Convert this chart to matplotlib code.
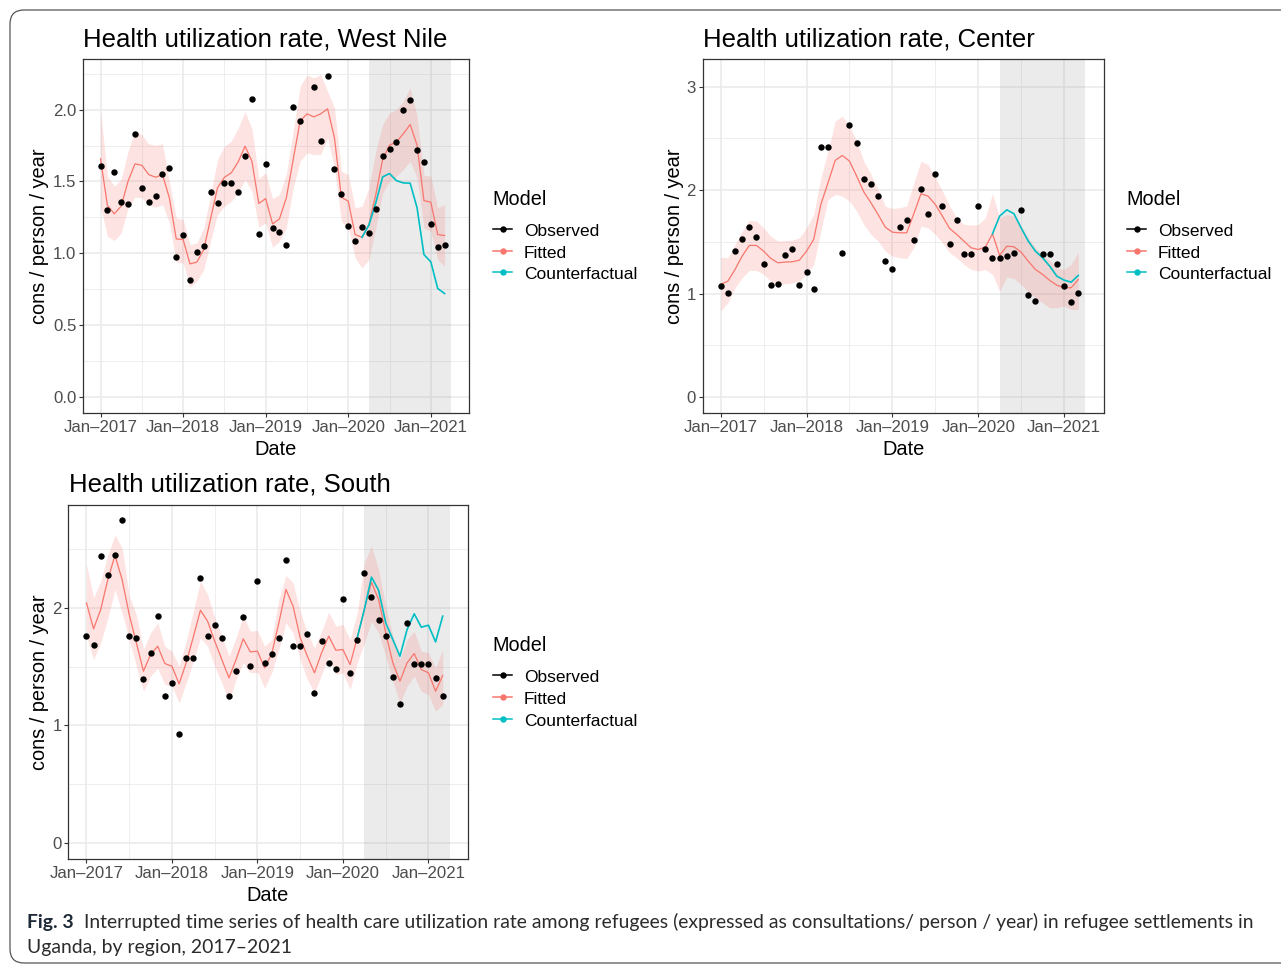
import numpy as np
import matplotlib
matplotlib.use("Agg")
import matplotlib.pyplot as plt
from matplotlib.patches import FancyBboxPatch
from matplotlib.lines import Line2D
from matplotlib.transforms import IdentityTransform

plt.rcParams['font.family'] = ['Liberation Sans', 'DejaVu Sans']

NaN = np.nan

# ---------------- data ----------------
months = np.arange(51)                       # months since Jan 2017
tick_months = [0, 12, 24, 36, 48]
tick_labels = ["Jan\u20132017", "Jan\u20132018", "Jan\u20132019", "Jan\u20132020", "Jan\u20132021"]
minor_months = [6, 18, 30, 42]
interruption = (39, 51)                      # Apr 2020 - Apr 2021
cf_start = 38
legend_labels = ["Observed", "Fitted", "Counterfactual"]

# West Nile
obs_wn = [1.611, 1.305, 1.564, 1.356, 1.340, 1.833, 1.458, 1.360, 1.400, 1.550, 1.597, 0.973, 1.126, 0.816,
          1.013, 1.048, 1.425, 1.351, 1.488, 1.486, 1.430, 1.676, 2.074, 1.136, 1.620, 1.178, 1.152, 1.055,
          2.021, 1.921, NaN, 2.160, 1.782, 2.234, 1.585, 1.414, 1.187, 1.089, 1.180, 1.145, 1.307, 1.678,
          1.727, 1.771, 2.000, 2.069, 1.717, 1.634, 1.205, 1.041, 1.057]
fit_wn = [1.657, 1.333, 1.275, 1.328, 1.502, 1.622, 1.613, 1.548, 1.529, 1.548, 1.386, 1.101, 1.096, 0.927,
          0.939, 1.027, 1.242, 1.456, 1.529, 1.560, 1.636, 1.745, 1.641, 1.347, 1.381, 1.205, 1.240, 1.386,
          1.652, 1.919, 1.970, 1.949, 1.970, 2.005, 1.803, 1.390, 1.363, 1.131, 1.112, 1.200, 1.409, 1.652,
          1.752, 1.775, 1.831, 1.896, 1.752, 1.367, 1.356, 1.131, 1.124]
hi_wn = [1.988, 1.537, 1.467, 1.514, 1.710, 1.849, 1.826, 1.761, 1.752, 1.761, 1.502, 1.247, 1.235, 1.061,
         1.073, 1.177, 1.409, 1.652, 1.745, 1.780, 1.872, 1.984, 1.868, 1.520, 1.560, 1.381, 1.409, 1.548,
         1.849, 2.162, 2.239, 2.220, 2.243, 2.127, 2.012, 1.571, 1.548, 1.316, 1.328, 1.455, 1.710, 1.896,
         1.977, 2.000, 2.058, 2.151, 1.954, 1.543, 1.537, 1.316, 1.340]
lo_wn = [1.326, 1.119, 1.089, 1.142, 1.316, 1.391, 1.386, 1.335, 1.321, 1.340, 1.212, 0.941, 0.934, 0.765,
         0.807, 0.888, 1.085, 1.270, 1.328, 1.363, 1.421, 1.514, 1.433, 1.182, 1.212, 1.043, 1.085, 1.177,
         1.455, 1.641, 1.699, 1.687, 1.687, 1.803, 1.595, 1.224, 1.177, 0.969, 0.899, 0.957, 1.177, 1.421,
         1.502, 1.537, 1.583, 1.641, 1.525, 1.177, 1.154, 0.957, 0.911]
cf_wn = [1.112, 1.196, 1.351, 1.532, 1.555, 1.506, 1.490, 1.488, 1.317, 0.992, 0.941, 0.756, 0.721]

# Center
obs_c = [1.073, 1.002, 1.408, 1.527, 1.640, 1.543, 1.282, 1.086, 1.089, 1.376, 1.427, 1.082, 1.208, 1.041,
         2.413, 2.413, NaN, 1.395, 2.632, 2.458, 2.103, 2.062, 1.946, 1.311, 1.240, 1.646, 1.707, 1.514,
         2.013, 1.765, 2.152, 1.846, 1.475, 1.710, 1.379, 1.379, 1.849, 1.430, 1.343, 1.343, 1.366, 1.388,
         1.810, 0.986, 0.928, 1.379, 1.379, 1.282, 1.076, 0.921, 1.002]
fit_c = [1.089, 1.121, 1.234, 1.363, 1.466, 1.466, 1.411, 1.340, 1.298, 1.305, 1.308, 1.324, 1.411, 1.524,
         1.862, 2.071, 2.287, 2.335, 2.281, 2.136, 1.984, 1.878, 1.765, 1.643, 1.594, 1.588, 1.588, 1.772,
         1.965, 1.942, 1.862, 1.749, 1.630, 1.572, 1.508, 1.443, 1.427, 1.450, 1.578, 1.369, 1.459, 1.453,
         1.401, 1.314, 1.234, 1.186, 1.128, 1.082, 1.057, 1.057, 1.137]
hi_c = [1.353, 1.347, 1.475, 1.604, 1.707, 1.701, 1.636, 1.556, 1.508, 1.514, 1.517, 1.540, 1.636, 1.765,
        2.120, 2.377, 2.667, 2.715, 2.619, 2.474, 2.280, 2.152, 2.007, 1.846, 1.823, 1.830, 1.846, 2.071,
        2.280, 2.248, 2.120, 1.991, 1.846, 1.733, 1.669, 1.662, 1.669, 1.733, 1.965, 1.733, 1.765, 1.749,
        1.652, 1.540, 1.443, 1.379, 1.321, 1.250, 1.234, 1.282, 1.401]
lo_c = [0.831, 0.912, 1.057, 1.153, 1.224, 1.224, 1.186, 1.121, 1.089, 1.095, 1.102, 1.121, 1.186, 1.282,
        1.604, 1.910, 1.958, 1.942, 1.894, 1.797, 1.669, 1.572, 1.508, 1.411, 1.363, 1.347, 1.340, 1.443,
        1.652, 1.636, 1.572, 1.492, 1.395, 1.347, 1.282, 1.234, 1.218, 1.234, 1.186, 1.024, 1.160, 1.147,
        1.089, 1.018, 0.960, 0.912, 0.863, 0.863, 0.880, 0.847, 0.847]
cf_c = [1.578, 1.749, 1.810, 1.772, 1.636, 1.508, 1.411, 1.347, 1.266, 1.169, 1.131, 1.111, 1.176]

# South
obs_s = [1.764, 1.682, 2.439, 2.275, 2.448, 2.746, 1.764, 1.742, 1.395, 1.614, 1.932, 1.251, 1.361, 0.930,
         1.569, 1.577, 2.255, 1.764, 1.858, 1.739, 1.248, 1.461, 1.926, 1.506, 2.227, 1.532, 1.608, 1.739,
         2.403, 1.679, 1.671, 1.776, 1.279, 1.719, 1.532, 1.478, 2.076, 1.444, 1.722, 2.292, 2.093, 1.900,
         1.759, 1.413, 1.183, 1.869, 1.523, 1.523, 1.523, 1.404, 1.254]
fit_s = [2.042, 1.821, 1.986, 2.241, 2.445, 2.241, 1.943, 1.702, 1.461, 1.603, 1.673, 1.526, 1.503, 1.353,
         1.532, 1.753, 1.980, 1.886, 1.716, 1.560, 1.404, 1.560, 1.736, 1.625, 1.631, 1.489, 1.608, 1.872,
         2.156, 2.014, 1.744, 1.588, 1.447, 1.617, 1.759, 1.639, 1.645, 1.517, 1.744, 1.986, 2.218, 2.071,
         1.787, 1.532, 1.376, 1.532, 1.611, 1.475, 1.447, 1.290, 1.424]
hi_s = [2.369, 2.085, 2.227, 2.450, 2.620, 2.510, 2.099, 1.943, 1.645, 1.787, 1.872, 1.673, 1.631, 1.503,
        1.716, 1.971, 2.227, 2.113, 1.915, 1.759, 1.588, 1.744, 1.934, 1.801, 1.807, 1.673, 1.730, 2.071,
        2.275, 2.212, 1.971, 1.787, 1.659, 1.801, 1.963, 1.844, 1.858, 1.730, 1.957, 2.383, 2.525, 2.326,
        2.014, 1.759, 1.560, 1.730, 1.801, 1.631, 1.617, 1.489, 1.645]
lo_s = [1.759, 1.560, 1.702, 1.915, 2.156, 1.957, 1.730, 1.503, 1.290, 1.418, 1.489, 1.347, 1.333, 1.191,
        1.361, 1.546, 1.744, 1.673, 1.503, 1.361, 1.205, 1.390, 1.532, 1.447, 1.452, 1.319, 1.447, 1.645,
        1.872, 1.787, 1.560, 1.390, 1.276, 1.432, 1.588, 1.432, 1.447, 1.305, 1.532, 1.702, 1.886, 1.787,
        1.588, 1.376, 1.191, 1.333, 1.418, 1.290, 1.262, 1.120, 1.177]
cf_s = [1.744, 1.986, 2.261, 2.150, 1.872, 1.730, 1.588, 1.815, 1.949, 1.835, 1.852, 1.710, 1.929]

# ---------------- style ----------------
C_OBS, C_FIT, C_CF = "black", "#F8766D", "#00BFC4"
W, H = 1281, 966

fig = plt.figure(figsize=(W / 100, H / 100), dpi=100)
fig.patch.set_facecolor("white")


def fx(x):
    return x / W


def fy(y):
    return 1 - y / H


def add_axes(x0, y0, x1, y1):
    return fig.add_axes([x0 / W, 1 - y1 / H, (x1 - x0) / W, (y1 - y0) / H])


def draw_panel(ax, obs, fit, lo, hi, cf, ylim, yticks, ylabels, yminor):
    ax.set_xlim(-2.55, 53.55)
    ax.set_ylim(*ylim)
    ax.set_axisbelow(True)
    ax.set_xticks(tick_months)
    ax.set_xticklabels(tick_labels)
    ax.set_xticks(minor_months, minor=True)
    ax.set_yticks(yticks)
    ax.set_yticklabels(ylabels)
    ax.set_yticks(yminor, minor=True)
    ax.grid(which="major", color="#EBEBEB", lw=1.2)
    ax.grid(which="minor", color="#EBEBEB", lw=0.6)
    ax.tick_params(which="minor", length=0)
    ax.tick_params(which="major", length=3.0, width=0.8, color="#333333",
                   labelsize=12.1, labelcolor="#4D4D4D", pad=1.8)
    for s in ax.spines.values():
        s.set_color("#333333")
        s.set_linewidth(0.9)
    ax.axvspan(interruption[0], interruption[1], color="#7F7F7F", alpha=0.15, lw=0, zorder=1)
    ax.fill_between(months, lo, hi, color=C_FIT, alpha=0.2, lw=0, zorder=1.5)
    ax.plot(months, fit, color=C_FIT, lw=0.9, zorder=2)
    ax.plot(months[cf_start:], cf, color=C_CF, lw=1.2, zorder=2.1)
    ax.plot(months, obs, "o", color=C_OBS, ms=4.6, mec="none", zorder=3)


def draw_legend(x, y_title_base, row_ys):
    fig.text(fx(x), fy(y_title_base), "Model", fontsize=14.3, ha="left", va="baseline")
    for lab, col, y in zip(legend_labels, [C_OBS, C_FIT, C_CF], row_ys):
        fig.add_artist(Line2D([fx(x + 1), fx(x + 20)], [fy(y), fy(y)], color=col, lw=1.1,
                              transform=fig.transFigure))
        fig.add_artist(Line2D([fx(x + 10.5)], [fy(y)], marker="o", ms=4.6, color=col, mec="none",
                              lw=0, transform=fig.transFigure))
        fig.text(fx(x + 32), fy(y + 7), lab, fontsize=12.5, ha="left", va="baseline")


# panel 1: West Nile
ax1 = add_axes(83, 58.5, 469, 413.3)
draw_panel(ax1, obs_wn, fit_wn, lo_wn, hi_wn, cf_wn, (-0.112, 2.355),
           [0, 0.5, 1.0, 1.5, 2.0], ["0.0", "0.5", "1.0", "1.5", "2.0"], [0.25, 0.75, 1.25, 1.75, 2.25])
fig.text(fx(83), fy(46), "Health utilization rate, " + "West Nile", fontsize=18.5, ha="left", va="baseline")
fig.text(fx(276), fy(455), "Date", fontsize=14.4, ha="center", va="baseline")
fig.text(fx(40), fy(236), "cons / person / year", fontsize=14.4, rotation=90, ha="center", va="center")
draw_legend(492, 205, [229.3, 250.7, 271.7])

# panel 2: Center
ax2 = add_axes(702.5, 58.5, 1103.7, 413.3)
draw_panel(ax2, obs_c, fit_c, lo_c, hi_c, cf_c, (-0.156, 3.272),
           [0, 1, 2, 3], ["0", "1", "2", "3"], [0.5, 1.5, 2.5])
fig.text(fx(703), fy(46), "Health utilization rate, " + "Center", fontsize=18.5, ha="left", va="baseline")
fig.text(fx(903), fy(455), "Date", fontsize=14.4, ha="center", va="baseline")
fig.text(fx(674), fy(236), "cons / person / year", fontsize=14.4, rotation=90, ha="center", va="center")
draw_legend(1126, 205, [229.3, 250.7, 271.7])

# panel 3: South
ax3 = add_axes(68.3, 504.5, 468, 859)
draw_panel(ax3, obs_s, fit_s, lo_s, hi_s, cf_s, (-0.137, 2.879),
           [0, 1, 2], ["0", "1", "2"], [0.5, 1.5, 2.5])
fig.text(fx(69), fy(492), "Health utilization rate, " + "South", fontsize=18.5, ha="left", va="baseline")
fig.text(fx(268), fy(901), "Date", fontsize=14.4, ha="center", va="baseline")
fig.text(fx(40), fy(682), "cons / person / year", fontsize=14.4, rotation=90, ha="center", va="center")
draw_legend(492, 651, [675.3, 696.7, 718.5])

# ---------------- caption ----------------
cap_font = ["Lato", "DejaVu Sans"]
cap1 = ("Interrupted time series of health care utilization rate among refugees (expressed as "
        "consultations/ person / year) in refugee settlements in")
cap2 = "Uganda, by region, 2017\u20132021"
renderer = fig.canvas.get_renderer()
fs = 13.0
t_b = fig.text(fx(27), fy(928), "Fig. 3", fontsize=fs, fontweight="bold", family=cap_font,
               color="#1f2a38", ha="left", va="baseline")
t_r = fig.text(fx(80), fy(928), cap1, fontsize=fs, family=cap_font, color="#2b2b2b",
               ha="left", va="baseline")
t_2 = fig.text(fx(27), fy(953), cap2, fontsize=fs, family=cap_font, color="#2b2b2b",
               ha="left", va="baseline")
for _ in range(2):
    bb = t_b.get_window_extent(renderer)
    gap = 0.55 * fs * 100 / 72
    t_r.set_x((bb.x1 + gap) / W)
    rb = t_r.get_window_extent(renderer)
    total = rb.x1 - 27
    fs = fs * (1252 - 27) / total
    for t in (t_b, t_r, t_2):
        t.set_fontsize(fs)
bb = t_b.get_window_extent(renderer)
t_r.set_x((bb.x1 + 0.55 * fs * 100 / 72) / W)

# ---------------- outer frame ----------------
frame = FancyBboxPatch((10, 3), 1300, 953, boxstyle="round,pad=0,rounding_size=14",
                       transform=IdentityTransform(), fill=False, ec="#555555", lw=0.9)
fig.add_artist(frame)

fig.savefig("out.png", dpi=100, facecolor="white")
